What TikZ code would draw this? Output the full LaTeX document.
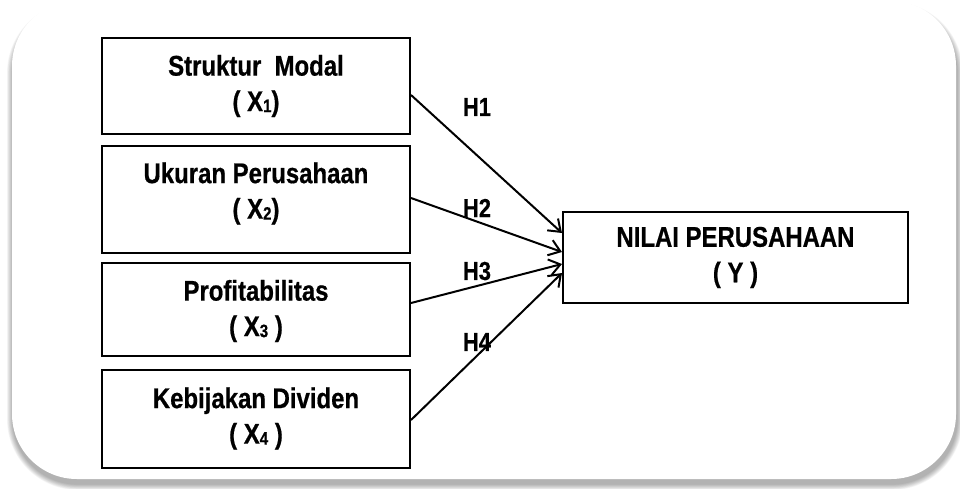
\documentclass[tikz,border=0pt]{standalone}
\usepackage{fontspec}
\setmainfont{Liberation Sans}[FakeStretch=0.84, BoldFeatures={FakeBold=0.6}]
\usetikzlibrary{arrows.meta,calc}

% small lowered digit used as an index
\newcommand\idx[1]{\raisebox{-1pt}{\fontsize{18}{18}\selectfont #1}}

\tikzset{
  varbox/.style={draw=black, line width=2pt, fill=white, rectangle, inner sep=0pt},
  boxtext/.style={align=center, font=\bfseries\fontsize{28.5}{35.5}\selectfont, inner sep=0pt},
  hyp/.style={font=\bfseries\fontsize{26}{26}\selectfont, inner sep=0pt},
  link/.style={line width=2pt, -{Straight Barb[length=11pt,width=16pt,line width=2pt]}},
}

\begin{document}
\begin{tikzpicture}[x=1pt,y=-1pt]
\useasboundingbox (0,0) rectangle (960,488);

% soft shadow under the panel, offset downwards
\foreach \k in {1,...,10}{
  \fill[black,opacity=0.035,rounded corners={65pt+\k*0.6pt}]
    ({13-\k*0.6},{8-\k*0.6}) rectangle ({957+\k*0.6},{484+\k*0.6});
}
% panel
\fill[white,rounded corners=65pt] (12,1) rectangle (956,479);

% explanatory variables
\node[varbox, minimum width=308pt, minimum height=96pt]  (x1) at (256,86) {};
\node[varbox, minimum width=308pt, minimum height=107pt] (x2) at (256,199.5) {};
\node[varbox, minimum width=308pt, minimum height=93pt]  (x3) at (256,309.5) {};
\node[varbox, minimum width=308pt, minimum height=98pt]  (x4) at (256,419) {};

\node[boxtext] (t1) at (256,86)    {Struktur\ \ Modal\\( X\idx{1})};
\node[boxtext] (t2) at (256,193.5) {Ukuran Perusahaan\\( X\idx{2})};
\node[boxtext] (t3) at (256,311)   {Profitabilitas\\( X\idx{3} )};
\node[boxtext] (t4) at (256,418.5) {Kebijakan Dividen\\( X\idx{4} )};

% dependent variable
\node[varbox, minimum width=345pt, minimum height=91pt] (y) at (735.5,257.5) {};
\node[boxtext] (ty) at (735.5,257.5) {NILAI PERUSAHAAN\\( Y )};

% hypotheses
\draw[link] ($(x1.east)+(0,9)$)   -- ($(y.west)+(0,-24.5)$);
\draw[link] ($(x2.east)+(0,-1.5)$) -- ($(y.west)+(0,-5.5)$);
\draw[link] ($(x3.east)+(0,-6.5)$) -- ($(y.west)+(0,6.5)$);
\draw[link] ($(x4.east)+(0,1)$)   -- ($(y.west)+(0,15.5)$);

\node[hyp] (h1) at (477,107) {H1};
\node[hyp] (h2) at (477,208) {H2};
\node[hyp] (h3) at (477,271) {H3};
\node[hyp] (h4) at (477,342) {H4};
\end{tikzpicture}
\end{document}
